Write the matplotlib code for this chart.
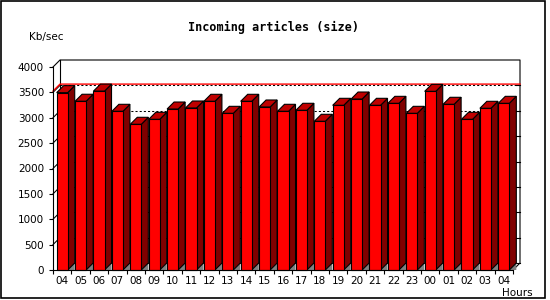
import matplotlib
matplotlib.use("Agg")
import matplotlib.pyplot as plt
from matplotlib.patches import Rectangle, Polygon
from matplotlib.lines import Line2D

plt.rcParams['lines.scale_dashes'] = False
plt.rcParams['font.family'] = ['DejaVu Sans']

# ---- data ----
hours = ["04", "05", "06", "07", "08", "09", "10", "11", "12", "13", "14", "15",
         "16", "17", "18", "19", "20", "21", "22", "23", "00", "01", "02", "03", "04"]
kb_per_sec = [3495, 3325, 3525, 3127, 2871, 2969, 3172, 3192, 3324, 3087, 3324, 3212,
              3127, 3147, 2930, 3245, 3369, 3245, 3284, 3087, 3520, 3265, 2969, 3186, 3284]
y_ticks = [0, 500, 1000, 1500, 2000, 2500, 3000, 3500, 4000]
title = "Incoming articles (size)"
y_unit = "Kb/sec"
x_unit = "Hours"

W, H = 550, 300
fig = plt.figure(figsize=(W / 100, H / 100), dpi=100)
fig.patch.set_facecolor("white")

# front plot area in pixels
left_px, right_px, top_px, bottom_px = 53, 513, 67, 270
ax = fig.add_axes([left_px / W, (H - bottom_px) / H,
                   (right_px - left_px) / W, (bottom_px - top_px) / H])
n = len(kb_per_sec)
ymax = 4000
ax.set_xlim(0, n)
ax.set_ylim(0, ymax)
ax.set_facecolor("none")

px_x = (right_px - left_px) / n          # pixels per category
px_y = (bottom_px - top_px) / ymax       # pixels per unit
depth = 7
dx = depth / px_x
dy = depth / px_y

lw = 0.8
dot = (0, (1.5, 1.5))

# back-plane gridlines and left-wall diagonals
for v in y_ticks[1:-1]:
    ax.add_line(Line2D([dx, n + dx], [v + dy, v + dy], color="black", lw=0.75,
                       linestyle=dot, clip_on=False, zorder=1))
    ax.add_line(Line2D([0, dx], [v, v + dy], color="black", lw=0.75,
                       clip_on=False, zorder=1))
    ax.add_line(Line2D([n + dx - 4 / px_x, n + dx], [v + dy, v + dy], color="black",
                       lw=lw, clip_on=False, zorder=1))

# maximum line
vmax = max(kb_per_sec)
ax.add_line(Line2D([0, dx, n + dx], [vmax, vmax + dy, vmax + dy], color="red",
                   lw=1.0, clip_on=False, zorder=1.5))

# back frame
frame_kw = dict(color="black", lw=lw, clip_on=False, zorder=1.2)
ax.add_line(Line2D([0, dx, n + dx, n + dx, n], [ymax, ymax + dy, ymax + dy, dy, 0], **frame_kw))
ax.add_line(Line2D([dx, dx], [dy, ymax + dy], **frame_kw))
ax.add_line(Line2D([dx, n + dx], [dy, dy], **frame_kw))

# bars
for i, h in enumerate(kb_per_sec):
    x0, x1 = i + 0.2, i + 0.8
    z = 2 + i * 0.01
    ax.add_patch(Polygon([(x1, 0), (x1 + dx, dy), (x1 + dx, 0)], closed=True,
                         fc="#808080", ec="none", clip_on=False, zorder=z))
    ax.add_patch(Polygon([(x1, 0), (x1, h), (x1 + dx, h + dy), (x1 + dx, dy)], closed=True,
                         fc="#800000", ec="black", lw=lw, clip_on=False, zorder=z))
    ax.add_patch(Polygon([(x0, h), (x1, h), (x1 + dx, h + dy), (x0 + dx, h + dy)], closed=True,
                         fc="#c00000", ec="black", lw=lw, clip_on=False, zorder=z))
ax.bar([i + 0.5 for i in range(n)], kb_per_sec, width=0.6, color="#ff0000",
       edgecolor="black", linewidth=lw, zorder=3, clip_on=False)

# front axes
for s in ["top", "right"]:
    ax.spines[s].set_visible(False)
for s in ["left", "bottom"]:
    ax.spines[s].set_linewidth(lw)
    ax.spines[s].set_zorder(5)
ax.set_yticks(y_ticks)
ax.set_yticklabels([str(v) for v in y_ticks])
ax.set_xticks(range(n + 1))
ax.set_xticklabels([])
ax.set_xticks([i + 0.5 for i in range(n)], minor=True)
ax.set_xticklabels(hours, minor=True)
ax.tick_params(axis="y", direction="out", length=3, width=lw, labelsize=7.5, pad=3.5)
ax.tick_params(axis="x", which="major", direction="out", length=3, width=lw)
ax.tick_params(axis="x", which="minor", length=0, labelsize=7.5, pad=4)

# texts
fig.text(274 / W, 1 - 27 / H, title, ha="center", va="center", fontsize=8.5,
         fontweight="bold", family="DejaVu Sans Mono")
fig.text(29 / W, 1 - 37 / H, y_unit, ha="left", va="center", fontsize=7.5)
fig.text(533 / W, 1 - 293 / H, x_unit, ha="right", va="center", fontsize=7.5)

# outer border
fig.add_artist(Rectangle((0.7 / W, 2 / H), 544.5 / W, 297.3 / H, transform=fig.transFigure,
                         fill=False, ec="black", lw=1.2))

fig.savefig("out.png", dpi=100)
